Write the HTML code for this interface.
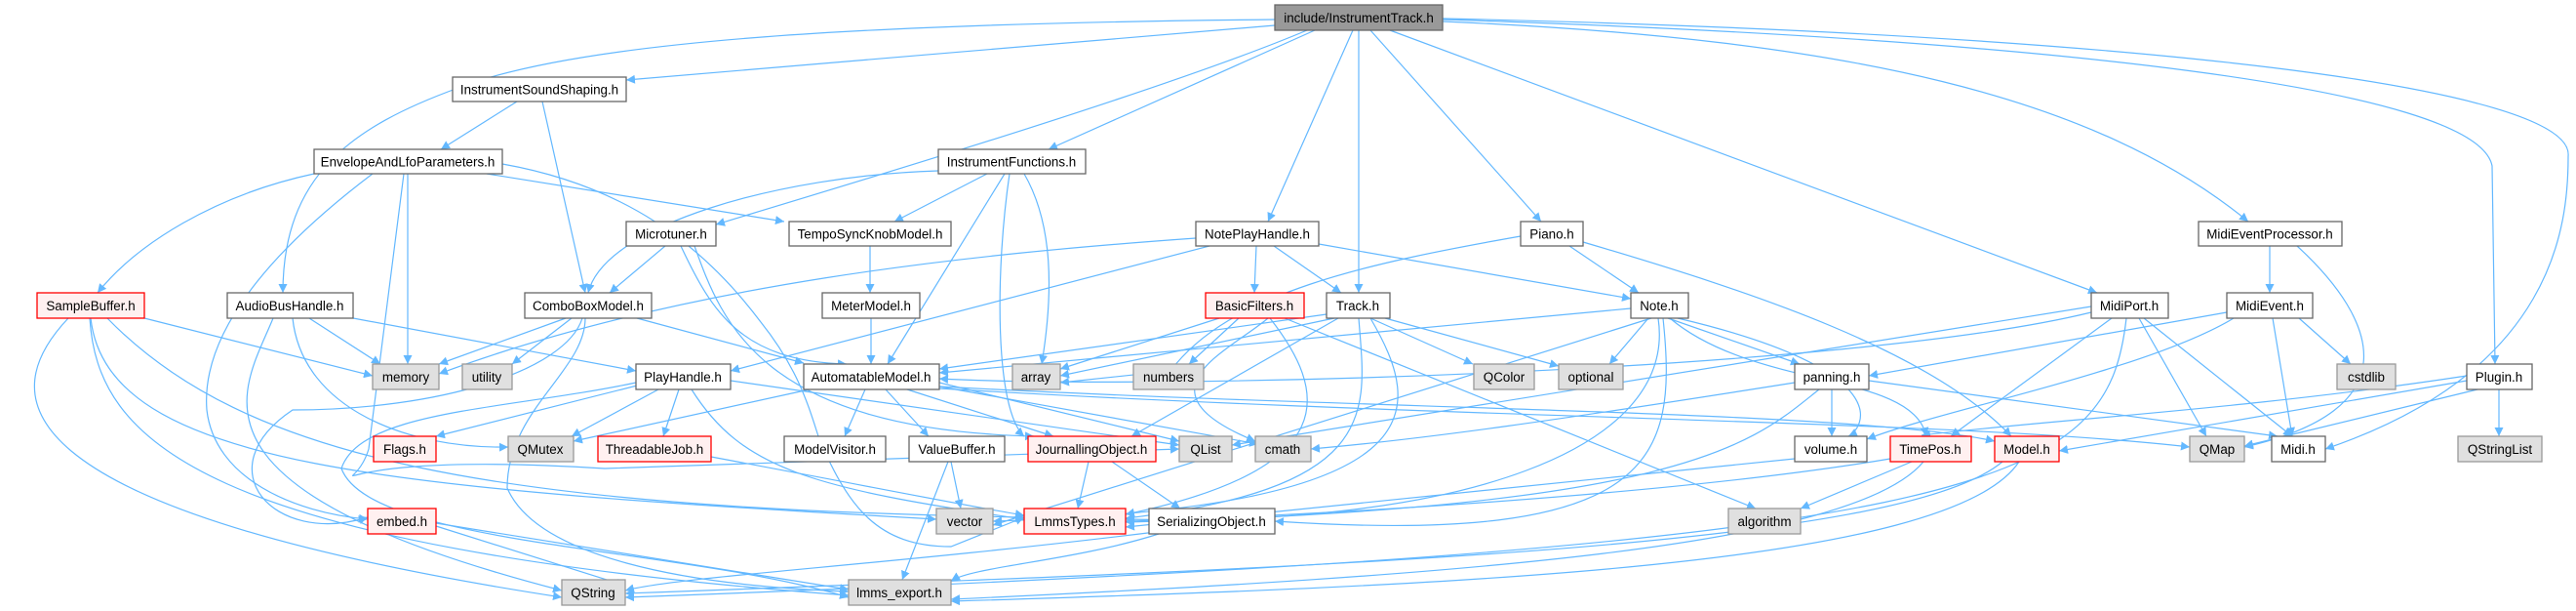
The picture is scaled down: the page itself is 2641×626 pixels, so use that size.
<!DOCTYPE html>
<html><head><meta charset="utf-8"><style>
html,body{margin:0;padding:0;background:#fff;width:2641px;height:626px;overflow:hidden}
svg{position:absolute;left:0;top:0}
text{font-family:"Liberation Sans",Helvetica,sans-serif;font-size:13.4px;fill:#000;text-anchor:middle}
.w{fill:#fff;stroke:#666;stroke-width:1.3}
.g{fill:#e0e0e0;stroke:#999;stroke-width:1.3}
.r{fill:#fff0f0;stroke:#f00;stroke-width:1.3}
.t{fill:#999;stroke:#666;stroke-width:1.3}
.e path{fill:none;stroke:#63b8ff;stroke-width:1.2;marker-end:url(#a)}
</style></head><body>
<svg width="2641" height="626" viewBox="0 0 2641 626">
<defs><marker id="a" viewBox="0 0 10 10" refX="10" refY="5" markerWidth="9" markerHeight="9" markerUnits="userSpaceOnUse" orient="auto"><path d="M0,0 L10,5 L0,10 z" fill="#63b8ff"/></marker></defs>
<g class="e">
<path d="M1307,20 C900,24 600,40 470,90 C360,130 290,180 290,300"/>
<path d="M1307,26 L642,82"/>
<path d="M1348,31 L1075,153"/>
<path d="M1340,31 C1200,90 900,180 734,230"/>
<path d="M1387,31 L1300,227"/>
<path d="M1393,31 L1393,300"/>
<path d="M1405,31 L1580,227"/>
<path d="M1425,31 L2150,300"/>
<path d="M1479,22 C1900,40 2150,100 2305,227"/>
<path d="M1479,20 C2100,40 2540,90 2555,170 L2558,373"/>
<path d="M1479,19 C2200,35 2640,90 2633,160 C2633,230 2620,380 2384,460"/>
<path d="M530,104 L452,153"/>
<path d="M556,104 L600,300"/>
<path d="M322,178 C220,200 140,250 100,300"/>
<path d="M499,178 L804,227"/>
<path d="M418,178 L418,373"/>
<path d="M515,168 C640,190 720,250 780,330 C820,380 830,420 840,450 C870,520 900,560 975,560 L1050,530"/>
<path d="M382,178 C300,240 205,330 212,420 C220,490 300,525 377,532"/>
<path d="M414,178 L378,460 C360,520 300,460 620,480 L1209,460"/>
<path d="M962,175 C800,180 620,230 603,300"/>
<path d="M1012,178 L917,227"/>
<path d="M1030,178 L910,373"/>
<path d="M1035,178 C1020,280 1020,420 1050,447"/>
<path d="M1050,178 C1080,230 1080,300 1068,373"/>
<path d="M682,252 L625,300"/>
<path d="M698,252 C730,320 760,370 868,373"/>
<path d="M712,252 C740,330 780,440 1060,447"/>
<path d="M892,252 L892,300"/>
<path d="M893,326 L893,373"/>
<path d="M1226,244 C1000,260 700,290 450,383"/>
<path d="M1240,252 L749,380"/>
<path d="M1288,252 L1286,300"/>
<path d="M1306,252 L1375,300"/>
<path d="M1352,250 L1672,306"/>
<path d="M1559,242 C1400,270 1260,300 1200,380 L1087,392"/>
<path d="M1609,252 L1680,300"/>
<path d="M1623,248 C1800,300 1980,360 2062,447"/>
<path d="M70,326 C0,400 -20,520 576,612"/>
<path d="M92,326 C100,450 200,560 870,610"/>
<path d="M110,326 C250,470 500,520 1050,530"/>
<path d="M148,326 L382,385"/>
<path d="M93,326 C110,480 400,500 960,532"/>
<path d="M280,326 C250,400 170,500 576,605"/>
<path d="M317,326 L390,373"/>
<path d="M300,326 C310,420 420,460 521,458"/>
<path d="M362,326 L652,380"/>
<path d="M580,326 L450,373"/>
<path d="M586,326 L525,373"/>
<path d="M597,326 C580,380 450,420 300,420 C210,480 280,560 377,530"/>
<path d="M600,326 C600,380 520,420 520,500 C550,570 700,600 870,606"/>
<path d="M653,326 L824,372"/>
<path d="M665,392 L447,447"/>
<path d="M675,399 L586,447"/>
<path d="M696,399 L680,447"/>
<path d="M709,399 C760,480 830,500 1050,532"/>
<path d="M749,390 L1209,456"/>
<path d="M652,392 C520,420 370,420 350,480 C380,560 700,560 870,612"/>
<path d="M830,399 L588,452"/>
<path d="M887,399 L866,447"/>
<path d="M908,399 L952,447"/>
<path d="M930,399 L1080,447"/>
<path d="M963,392 L1209,452"/>
<path d="M963,396 L1290,455"/>
<path d="M963,396 C1400,420 1900,420 2045,452"/>
<path d="M963,398 C1500,430 2000,430 2245,458"/>
<path d="M975,473 L985,521"/>
<path d="M972,473 L925,594"/>
<path d="M1116,473 L1105,521"/>
<path d="M1140,473 L1210,521"/>
<path d="M1185,545 C900,580 700,590 641,605"/>
<path d="M1188,547 C1100,575 1000,580 975,595"/>
<path d="M729,468 C900,500 1000,520 1050,528"/>
<path d="M1250,326 L1087,378"/>
<path d="M1270,326 L1219,373"/>
<path d="M1300,326 C1260,360 1160,400 1287,452"/>
<path d="M1302,326 C1360,400 1380,480 1154,527"/>
<path d="M1317,326 L1800,521"/>
<path d="M1360,322 L963,378"/>
<path d="M1368,326 L1087,385"/>
<path d="M1405,326 L1510,373"/>
<path d="M1420,326 L1598,375"/>
<path d="M1372,326 L1160,447"/>
<path d="M1393,326 C1400,420 1420,500 1154,531"/>
<path d="M1405,326 C1460,420 1480,520 1018,534"/>
<path d="M1672,316 L963,382"/>
<path d="M1690,326 L1650,373"/>
<path d="M1710,326 L1845,373"/>
<path d="M1720,326 C1950,380 1910,440 1895,447"/>
<path d="M1712,326 C1800,400 1960,380 1975,447"/>
<path d="M1705,326 C1720,470 1700,560 1307,534"/>
<path d="M1700,326 C1720,460 1500,540 1154,532"/>
<path d="M1693,326 L1018,538"/>
<path d="M2144,314 L1263,456"/>
<path d="M2144,320 C1900,380 1200,400 963,388"/>
<path d="M2165,326 L2000,447"/>
<path d="M2180,326 C2160,500 2050,560 641,612"/>
<path d="M2193,326 L2262,447"/>
<path d="M2198,326 L2350,447"/>
<path d="M2283,320 L1916,385"/>
<path d="M2290,326 C2200,380 1990,420 1914,450"/>
<path d="M2330,326 L2350,447"/>
<path d="M2357,326 L2410,373"/>
<path d="M2327,252 L2327,300"/>
<path d="M2355,252 C2440,330 2470,420 2301,458"/>
<path d="M1916,390 L2335,447"/>
<path d="M1878,399 L1878,447"/>
<path d="M1865,399 C1800,450 1740,520 1154,535"/>
<path d="M1840,392 C1600,430 1460,450 1344,460"/>
<path d="M1840,470 L1154,540"/>
<path d="M1960,473 L1846,521"/>
<path d="M1972,473 C1900,560 1500,590 975,614"/>
<path d="M1938,470 C1700,510 1300,530 1154,534"/>
<path d="M2053,473 C1950,560 1400,580 641,608"/>
<path d="M2070,473 C2000,580 1500,600 975,616"/>
<path d="M2529,385 C2300,420 2100,430 1970,446"/>
<path d="M2562,399 L2562,447"/>
<path d="M2529,390 L2111,462"/>
<path d="M2540,399 L2301,457"/>
<path d="M447,539 L641,600"/>
<path d="M447,536 L870,604"/>
</g>
<g>
<rect class="t" x="1307" y="5" width="172" height="26"/><text x="1393" y="23">include/InstrumentTrack.h</text>
<rect class="w" x="464" y="79" width="178" height="25"/><text x="553" y="96.5">InstrumentSoundShaping.h</text>
<rect class="w" x="322" y="153" width="193" height="25"/><text x="418" y="170.5">EnvelopeAndLfoParameters.h</text>
<rect class="w" x="962" y="153" width="151" height="25"/><text x="1037" y="170.5">InstrumentFunctions.h</text>
<rect class="w" x="642" y="227" width="92" height="25"/><text x="688" y="244.5">Microtuner.h</text>
<rect class="w" x="809" y="227" width="166" height="25"/><text x="892" y="244.5">TempoSyncKnobModel.h</text>
<rect class="w" x="1226" y="227" width="126" height="25"/><text x="1289" y="244.5">NotePlayHandle.h</text>
<rect class="w" x="1559" y="227" width="64" height="25"/><text x="1591" y="244.5">Piano.h</text>
<rect class="w" x="2254" y="227" width="147" height="25"/><text x="2327" y="244.5">MidiEventProcessor.h</text>
<rect class="r" x="38" y="300" width="110" height="26"/><text x="93" y="318">SampleBuffer.h</text>
<rect class="w" x="233" y="300" width="129" height="26"/><text x="297" y="318">AudioBusHandle.h</text>
<rect class="w" x="538" y="300" width="130" height="26"/><text x="603" y="318">ComboBoxModel.h</text>
<rect class="w" x="843" y="300" width="100" height="26"/><text x="893" y="318">MeterModel.h</text>
<rect class="r" x="1236" y="300" width="101" height="26"/><text x="1286" y="318">BasicFilters.h</text>
<rect class="w" x="1360" y="300" width="65" height="26"/><text x="1392" y="318">Track.h</text>
<rect class="w" x="1672" y="300" width="59" height="26"/><text x="1701" y="318">Note.h</text>
<rect class="w" x="2144" y="300" width="79" height="26"/><text x="2183" y="318">MidiPort.h</text>
<rect class="w" x="2283" y="300" width="88" height="26"/><text x="2327" y="318">MidiEvent.h</text>
<rect class="g" x="382" y="373" width="68" height="26"/><text x="416" y="391">memory</text>
<rect class="g" x="474" y="373" width="51" height="26"/><text x="499" y="391">utility</text>
<rect class="w" x="652" y="373" width="97" height="26"/><text x="700" y="391">PlayHandle.h</text>
<rect class="w" x="824" y="373" width="139" height="26"/><text x="893" y="391">AutomatableModel.h</text>
<rect class="g" x="1038" y="373" width="49" height="26"/><text x="1062" y="391">array</text>
<rect class="g" x="1162" y="373" width="72" height="26"/><text x="1198" y="391">numbers</text>
<rect class="g" x="1511" y="373" width="62" height="26"/><text x="1542" y="391">QColor</text>
<rect class="g" x="1598" y="373" width="66" height="26"/><text x="1631" y="391">optional</text>
<rect class="w" x="1840" y="373" width="76" height="26"/><text x="1878" y="391">panning.h</text>
<rect class="g" x="2396" y="373" width="60" height="26"/><text x="2426" y="391">cstdlib</text>
<rect class="w" x="2529" y="373" width="67" height="26"/><text x="2562" y="391">Plugin.h</text>
<rect class="r" x="383" y="447" width="64" height="26"/><text x="415" y="465">Flags.h</text>
<rect class="g" x="521" y="447" width="67" height="26"/><text x="554" y="465">QMutex</text>
<rect class="r" x="613" y="447" width="116" height="26"/><text x="671" y="465">ThreadableJob.h</text>
<rect class="w" x="804" y="447" width="104" height="26"/><text x="856" y="465">ModelVisitor.h</text>
<rect class="w" x="932" y="447" width="98" height="26"/><text x="981" y="465">ValueBuffer.h</text>
<rect class="r" x="1054" y="447" width="131" height="26"/><text x="1119" y="465">JournallingObject.h</text>
<rect class="g" x="1209" y="447" width="54" height="26"/><text x="1236" y="465">QList</text>
<rect class="g" x="1287" y="447" width="57" height="26"/><text x="1315" y="465">cmath</text>
<rect class="w" x="1840" y="447" width="74" height="26"/><text x="1877" y="465">volume.h</text>
<rect class="r" x="1938" y="447" width="83" height="26"/><text x="1979" y="465">TimePos.h</text>
<rect class="r" x="2045" y="447" width="66" height="26"/><text x="2078" y="465">Model.h</text>
<rect class="g" x="2245" y="447" width="56" height="26"/><text x="2273" y="465">QMap</text>
<rect class="w" x="2329" y="447" width="55" height="26"/><text x="2356" y="465">Midi.h</text>
<rect class="g" x="2520" y="447" width="86" height="26"/><text x="2563" y="465">QStringList</text>
<rect class="r" x="377" y="521" width="70" height="26"/><text x="412" y="539">embed.h</text>
<rect class="g" x="960" y="521" width="58" height="26"/><text x="989" y="539">vector</text>
<rect class="r" x="1050" y="521" width="104" height="26"/><text x="1102" y="539">LmmsTypes.h</text>
<rect class="w" x="1178" y="521" width="129" height="26"/><text x="1242" y="539">SerializingObject.h</text>
<rect class="g" x="1772" y="521" width="74" height="26"/><text x="1809" y="539">algorithm</text>
<rect class="g" x="576" y="594" width="65" height="26"/><text x="608" y="612">QString</text>
<rect class="g" x="870" y="594" width="105" height="26"/><text x="922" y="612">lmms_export.h</text>
</g>
</svg>
</body></html>
